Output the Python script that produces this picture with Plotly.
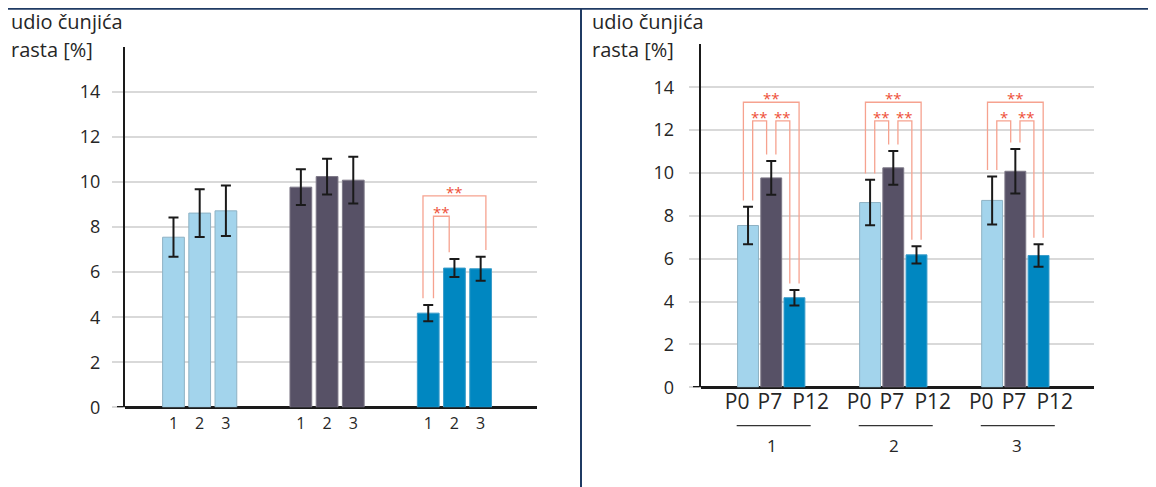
import plotly.graph_objects as go

# --- data ----------------------------------------------------------------
group_labels = ["1", "2", "3"]
passage_labels = ["P0", "P7", "P12"]

p0_mean = [7.55, 8.62, 8.72]
p0_err = [0.87, 1.06, 1.12]
p7_mean = [9.77, 10.24, 10.08]
p7_err = [0.79, 0.79, 1.04]
p12_mean = [4.18, 6.18, 6.15]
p12_err = [0.36, 0.40, 0.53]

y_ticks = [0, 2, 4, 6, 8, 10, 12, 14]

# significance marks: (index a, index b, stars)
left_sig_p12 = [(0, 1, "**"), (0, 2, "**")]          # groups inside P12 cluster
right_sig = [
    [(0, 1, "**"), (1, 2, "**"), (0, 2, "**")],      # group 1
    [(0, 1, "**"), (1, 2, "**"), (0, 2, "**")],      # group 2
    [(0, 1, "*"), (1, 2, "**"), (0, 2, "**")],       # group 3
]

# --- styling -------------------------------------------------------------
# pixel positions below are in screenshot coordinates; the page puts the
# figure 8px in and the capture squeezes it a little vertically
PAGE_MARGIN = 8
SQUEEZE_Y = 0.976
WIN_W, WIN_H = 1156, 487
W = WIN_W - PAGE_MARGIN
H = round((WIN_H - PAGE_MARGIN) / SQUEEZE_Y)
FONT = "Open Sans"
TEXT = "#262626"
NAVY = "#1f3a63"
GRID = "#d9d9d9"
SIG_LINE = "#f6a28f"
SIG_TEXT = "#ee4f38"
ERR = "#1a1a1a"
series_colors = ["#a3d4ec", "#575166", "#0087c1"]
series_edges = ["#8eb2c4", "#7d7887", "#3a9cca"]

LEFT_GAP = 4.86    # cluster spacing in bar steps
RIGHT_GAP = 5.26
LEG = 0.2          # bracket leg offset from bar centre
LEG_PAD = 0.3      # gap between error bar and leg end

means = [p0_mean, p7_mean, p12_mean]
errs = [p0_err, p7_err, p12_err]


def px_x(px):
    return (px - PAGE_MARGIN) / W


def px_y(py):
    return 1 - (py - PAGE_MARGIN) / SQUEEZE_Y / H


def left_x(series, group):
    return series * LEFT_GAP + (group - 1)


def right_x(group, series):
    return group * RIGHT_GAP + (series - 1)


fig = go.Figure()

# left panel: clusters per passage, bars per group
for s in range(3):
    fig.add_trace(go.Bar(
        x=[left_x(s, g) for g in range(3)], y=means[s], width=0.83,
        marker=dict(color=series_colors[s], line=dict(color=series_edges[s], width=1)),
        error_y=dict(type="data", array=errs[s], color=ERR, thickness=2, width=5),
        xaxis="x", yaxis="y", showlegend=False, hoverinfo="skip",
    ))

# right panel: clusters per group, bars per passage
for s in range(3):
    fig.add_trace(go.Bar(
        x=[right_x(g, s) for g in range(3)], y=means[s], width=0.9,
        marker=dict(color=series_colors[s], line=dict(color=series_edges[s], width=1)),
        error_y=dict(type="data", array=errs[s], color=ERR, thickness=2, width=5),
        xaxis="x2", yaxis="y2", showlegend=False, hoverinfo="skip",
    ))

annotations = []


def add_bracket(xa, xb, ya, yb, top, outer, xref, yref):
    if outer:
        x1, x2 = xa - LEG, xb + LEG
    else:
        x1, x2 = xa + LEG, xb - LEG
    fig.add_trace(go.Scatter(
        x=[x1, x1, x2, x2], y=[ya + LEG_PAD, top, top, yb + LEG_PAD],
        mode="lines", line=dict(color=SIG_LINE, width=1.3),
        xaxis=xref, yaxis=yref, showlegend=False, hoverinfo="skip",
    ))
    return (x1 + x2) / 2


def stars(x, y, text, xref, yref):
    annotations.append(dict(
        x=x, y=y, xref=xref, yref=yref, text=text, showarrow=False,
        yanchor="middle", yshift=4, font=dict(family=FONT, size=15, color=SIG_TEXT),
    ))


# left brackets (inside the P12 cluster)
for a, b, txt in left_sig_p12:
    outer = b - a > 1
    top = 9.38 if outer else 8.48
    cx = add_bracket(left_x(2, a), left_x(2, b),
                     p12_mean[a] + p12_err[a], p12_mean[b] + p12_err[b],
                     top, outer, "x", "y")
    stars(cx, top, txt, "x", "y")

# right brackets
for g in range(3):
    for a, b, txt in right_sig[g]:
        outer = b - a > 1
        top = 13.3 if outer else 12.43
        cx = add_bracket(right_x(g, a), right_x(g, b),
                         means[a][g] + errs[a][g], means[b][g] + errs[b][g],
                         top, outer, "x2", "y2")
        stars(cx, top, txt, "x2", "y2")

# right panel group captions with rules
shapes = []
label_offsets = [-1.47, -0.06, 1.7]
for g in range(3):
    c = right_x(g, 1)
    shapes.append(dict(type="line", xref="x2", yref="paper",
                       x0=c - 1.49, x1=c + 1.7, y0=px_y(425), y1=px_y(425),
                       line=dict(color="#333333", width=1.2)))
    annotations.append(dict(x=c + 0.05, y=px_y(445), xref="x2", yref="paper",
                            text=group_labels[g], showarrow=False, yanchor="middle",
                            font=dict(family=FONT, size=17, color=TEXT)))

# zero baseline pokes out left of the y axis
shapes.append(dict(type="line", xref="paper", yref="y", x0=px_x(117), x1=px_x(126),
                   y0=0, y1=0, line=dict(color=ERR, width=2.5)))
shapes.append(dict(type="line", xref="paper", yref="y2", x0=px_x(693), x1=px_x(702),
                   y0=0, y1=0, line=dict(color=ERR, width=2.5)))

# frame lines of the composite
shapes.append(dict(type="line", xref="paper", yref="paper", x0=0, x1=1,
                   y0=px_y(8.8), y1=px_y(8.8), line=dict(color=NAVY, width=2)))
shapes.append(dict(type="line", xref="paper", yref="paper", x0=px_x(581), x1=px_x(581),
                   y0=0, y1=px_y(8.8), line=dict(color=NAVY, width=2)))

# axis titles, one annotation per line
for xpx in (10, 591):
    for text, ypx in (("udio čunjića", 21.5), ("rasta [%]", 49)):
        annotations.append(dict(x=px_x(xpx), y=px_y(ypx), xref="paper", yref="paper",
                                xanchor="left", yanchor="middle", text=text,
                                showarrow=False, borderpad=0,
                                font=dict(family=FONT, size=20, color=TEXT)))

yaxis_common = dict(
    range=[0, 16], tickvals=y_ticks, showgrid=True, gridcolor=GRID, gridwidth=1.5,
    showline=True, linecolor=ERR, linewidth=2, ticks="outside", tickcolor=GRID,
    tickwidth=1.5, zeroline=True, zerolinecolor=ERR, zerolinewidth=2.5,
    tickfont=dict(family=FONT, size=18, color=TEXT),
)

fig.update_layout(
    width=W, height=H, margin=dict(l=0, r=0, t=0, b=0),
    paper_bgcolor="white", plot_bgcolor="white", barmode="overlay",
    xaxis=dict(domain=[px_x(125), px_x(537)], range=[-2.85, 12.87],
               tickvals=[left_x(s, g) for s in range(3) for g in range(3)],
               ticktext=group_labels * 3, showgrid=False, zeroline=False,
               showline=False, ticks="", ticklabelstandoff=5,
               tickfont=dict(family=FONT, size=16, color=TEXT), anchor="y"),
    yaxis=dict(domain=[px_y(406.7), px_y(46.7)], ticklen=11, anchor="x",
               ticklabelstandoff=8, **yaxis_common),
    xaxis2=dict(domain=[px_x(700.7), px_x(1094)], range=[-3.04, 13.91],
                tickvals=[right_x(g, 1) + o for g in range(3) for o in label_offsets],
                ticktext=passage_labels * 3, showgrid=False, zeroline=False,
                showline=False, ticks="", ticklabelstandoff=0,
                tickfont=dict(family=FONT, size=21, color=TEXT), anchor="y2"),
    yaxis2=dict(domain=[px_y(386.7), px_y(44.3)], ticklen=10, anchor="x2",
                ticklabelstandoff=11, **yaxis_common),
    shapes=shapes,
    annotations=annotations,
)

fig.write_html("out.html")
